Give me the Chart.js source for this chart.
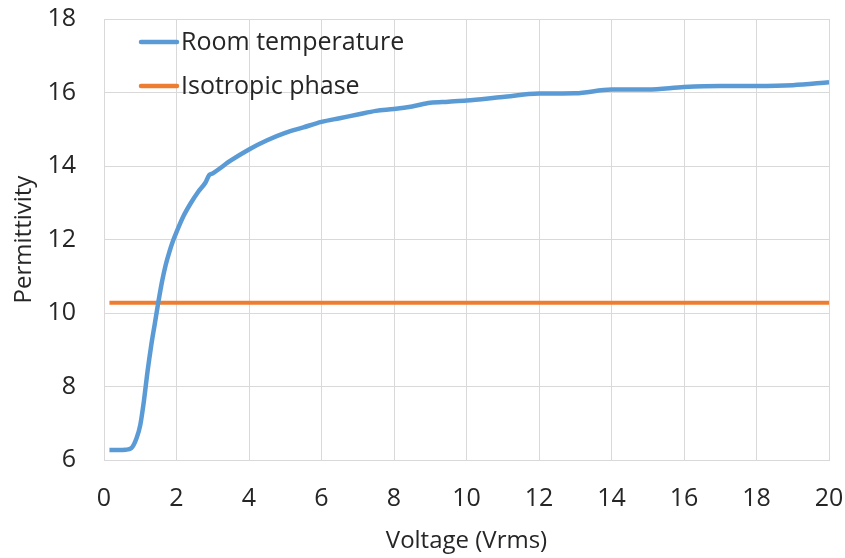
<!DOCTYPE html>
<html>
<head>
<meta charset="utf-8">
<script src="https://cdn.jsdelivr.net/npm/chart.js@4"></script>
<style>
  html, body { margin: 0; padding: 0; background: #fff; }
  #wrap { width: 845px; height: 558px; }
</style>
</head>
<body>
<div id="wrap"><canvas id="myChart" width="845" height="558"></canvas></div>
<script>
// voltage (Vrms) and permittivity
const roomVoltage = [0.15, 0.4, 0.6, 0.75, 0.9, 1.0, 1.1, 1.2, 1.3, 1.4, 1.5, 1.6, 1.7, 1.8, 1.9, 2.0,
  2.2, 2.4, 2.6, 2.8, 2.9, 3.0, 3.5, 4, 4.5, 5, 5.5, 6, 6.5, 7, 7.5, 8, 8.5, 9, 9.5, 10,
  11, 12, 13, 14, 15, 16, 17, 18, 19, 20];
const roomPermittivity = [6.27, 6.27, 6.28, 6.32, 6.6, 6.95, 7.6, 8.4, 9.1, 9.7, 10.3, 10.85, 11.3, 11.65, 11.95, 12.2,
  12.65, 13.0, 13.3, 13.55, 13.75, 13.8, 14.15, 14.45, 14.7, 14.9, 15.05, 15.2, 15.3, 15.4, 15.5, 15.55, 15.62, 15.72, 15.75, 15.78,
  15.88, 15.97, 15.98, 16.08, 16.08, 16.15, 16.18, 16.18, 16.2, 16.28];
const isoVoltage = [0.15, 20];
const isoPermittivity = [10.28, 10.28];
const seriesNames = ["Room temperature", "Isotropic phase"];

const FONT = "'Open Sans', 'Noto Sans', sans-serif";
const TEXT = "#262626";

// legend drawn inside the plot, stacked vertically like the original
const insideLegend = {
  id: "insideLegend",
  afterDraw(chart) {
    const ctx = chart.ctx;
    ctx.save();
    chart.data.datasets.forEach((ds, i) => {
      const y = 42 + i * 44;
      ctx.strokeStyle = ds.borderColor;
      ctx.lineWidth = 4.5;
      ctx.lineCap = "round";
      ctx.beginPath();
      ctx.moveTo(141, y);
      ctx.lineTo(177, y);
      ctx.stroke();
      ctx.fillStyle = TEXT;
      ctx.font = "25px " + FONT;
      ctx.textBaseline = "middle";
      ctx.fillText(ds.label, 181, y + 1);
    });
    ctx.restore();
  },
};

new Chart(document.getElementById("myChart").getContext("2d"), {
  type: "line",
  data: {
    datasets: [
      {
        label: seriesNames[0],
        data: roomVoltage.map((v, i) => ({ x: v, y: roomPermittivity[i] })),
        borderColor: "#5B9BD5",
        borderWidth: 4.5,
        pointRadius: 0,
        tension: 0.4,
        cubicInterpolationMode: "monotone",
      },
      {
        label: seriesNames[1],
        data: isoVoltage.map((v, i) => ({ x: v, y: isoPermittivity[i] })),
        borderColor: "#ED7D31",
        borderWidth: 4,
        pointRadius: 0,
      },
    ],
  },
  options: {
    responsive: false,
    animation: false,
    layout: { padding: 0 },
    scales: {
      x: {
        type: "linear",
        min: 0,
        max: 20,
        ticks: { stepSize: 2, color: TEXT, font: { size: 25, family: FONT }, padding: 24 },
        grid: { color: "#D9D9D9", drawTicks: false },
        border: { color: "#D9D9D9" },
        title: { display: true, text: "Voltage (Vrms)", color: TEXT, font: { size: 24, family: FONT }, padding: { top: 4, bottom: 2 } },
        afterFit(scale) {
          scale.height = 98;
          scale.paddingRight = 16; // keep plot right edge where the original has it
        },
      },
      y: {
        min: 6,
        max: 18,
        ticks: { stepSize: 2, color: TEXT, font: { size: 25, family: FONT }, padding: 28 },
        grid: { color: "#D9D9D9", drawTicks: false },
        border: { color: "#D9D9D9" },
        title: { display: true, text: "Permittivity", color: TEXT, font: { size: 24, family: FONT }, padding: { top: 10, bottom: 0 } },
        afterFit(scale) {
          scale.width = 104;
          scale.paddingTop = 19;
        },
      },
    },
    plugins: {
      legend: { display: false },
      tooltip: { enabled: false },
    },
  },
  plugins: [insideLegend],
});
</script>
</body>
</html>
